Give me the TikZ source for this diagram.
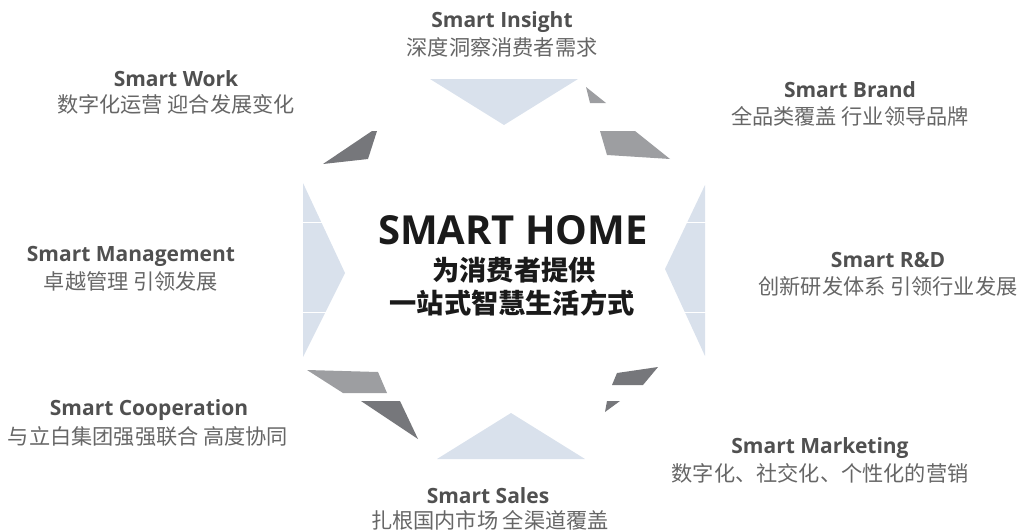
\documentclass[tikz,border=0pt]{standalone}
\usepackage{fontspec}
\setmainfont{Noto Sans CJK SC}
\newfontfamily\latinb{Open Sans}
\definecolor{lblue}{HTML}{D9E1EC}
\definecolor{lgrey}{HTML}{9D9EA1}
\definecolor{dgrey}{HTML}{76777B}
\definecolor{ttl}{HTML}{505050}
\definecolor{sub}{HTML}{666666}
\definecolor{ctr}{HTML}{1A1A1A}
\tikzset{
  ttlnode/.style={font=\latinb\bfseries\fontsize{21}{24}\selectfont, text=ttl, inner sep=0pt},
  subnode/.style={font=\fontsize{21.2}{24}\selectfont, text=sub, inner sep=0pt},
}
\begin{document}
\begin{tikzpicture}[x=1pt,y=-1pt]
\useasboundingbox (0,0) rectangle (1019,530);
% octagon pieces
\fill[lblue] (430,79) -- (578,79) -- (504,125) -- cycle;
\fill[lblue] (437,459) -- (585,459) -- (511,413) -- cycle;
\fill[lblue] (303,183) -- (345,273) -- (303,357) -- cycle;
\fill[lblue] (705,185) -- (665,269) -- (705,356) -- cycle;
\draw[white, line width=0.8pt] (300,222) -- (350,222) (300,312) -- (350,312);
\draw[white, line width=0.8pt] (660,222) -- (710,222) (660,312) -- (710,312);
\fill[lgrey] (586,87) -- (606,103) -- (590,103) -- cycle;
\fill[lgrey] (600,131) -- (635,131) -- (670,159) -- (607,155) -- cycle;
\fill[dgrey] (372,131) -- (377,131) -- (368,159) -- (323,164) -- cycle;
\fill[lgrey] (307,370) -- (378,372) -- (387,393) -- (343,393) -- cycle;
\fill[dgrey] (361,401) -- (400,401) -- (418,439) -- cycle;
\fill[dgrey] (617,373) -- (658,367) -- (643,385) -- (612,385) -- cycle;
\fill[dgrey] (607,401) -- (620,401) -- (605,412) -- cycle;
% center
\node[font=\latinb\bfseries\fontsize{40}{44}\selectfont, text=ctr, inner sep=0pt] (home) at (513,230) {SMART HOME};
\node[font=\bfseries\fontsize{27.2}{30}\selectfont, text=ctr, inner sep=0pt] (c1) at (514,270) {为消费者提供};
\node[font=\bfseries\fontsize{27.2}{30}\selectfont, text=ctr, inner sep=0pt] (c2) at (512,303) {一站式智慧生活方式};
% labels
\node[ttlnode] (t1) at (502,22) {Smart Insight};
\node[subnode] (s1) at (502,47) {深度洞察消费者需求};
\node[ttlnode] (t2) at (176,79) {Smart Work};
\node[subnode] (s2) at (176,104) {数字化运营 迎合发展变化};
\node[ttlnode] (t3) at (850,90) {Smart Brand};
\node[subnode] (s3) at (850,116) {全品类覆盖 行业领导品牌};
\node[ttlnode] (t4) at (131,256) {Smart Management};
\node[subnode] (s4) at (131,281) {卓越管理 引领发展};
\node[ttlnode] (t5) at (888,260) {Smart R\&D};
\node[subnode] (s5) at (888,286) {创新研发体系 引领行业发展};
\node[ttlnode] (t6) at (149,410) {Smart Cooperation};
\node[subnode] (s6) at (148,436) {与立白集团强强联合 高度协同};
\node[ttlnode] (t7) at (820,448) {Smart Marketing};
\node[subnode] (s7) at (820,473) {数字化、社交化、个性化的营销};
\node[ttlnode] (t8) at (488,496) {Smart Sales};
\node[subnode] (s8) at (490,520) {扎根国内市场 全渠道覆盖};
\end{tikzpicture}
\end{document}
